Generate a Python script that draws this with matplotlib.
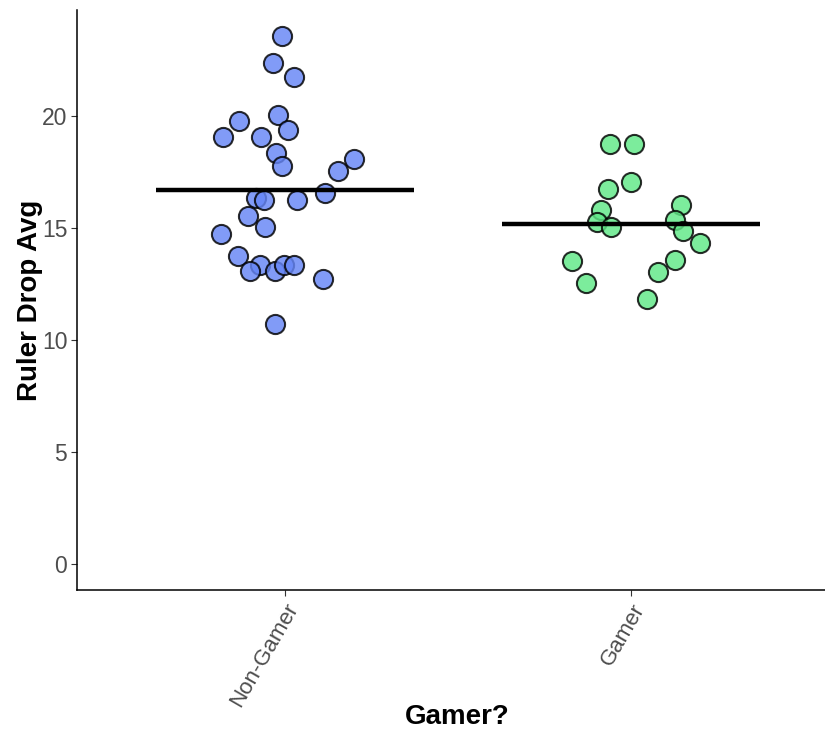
import matplotlib
matplotlib.use("Agg")
import matplotlib.pyplot as plt
import numpy as np

plt.rcParams['font.family'] = ['Liberation Sans', 'DejaVu Sans']

# Groups on the x axis
categories = ["Non-Gamer", "Gamer"]

# Ruler drop averages per participant
non_gamer_values = [23.54, 22.35, 21.73, 20.04, 19.75, 19.03, 19.03, 19.38, 18.33,
                    17.74, 18.07, 17.51, 16.32, 16.22, 16.22, 16.55, 15.54, 15.03,
                    14.73, 13.72, 13.33, 13.05, 13.05, 13.33, 13.33, 12.72, 10.71]
gamer_values = [18.74, 18.74, 17.04, 16.74, 16.03, 15.77, 15.24, 15.03, 15.36,
                14.84, 14.33, 13.53, 13.54, 13.02, 12.53, 11.83]

# Horizontal jitter applied to each point (in category units)
non_gamer_jitter = [-0.007, -0.034, 0.027, -0.020, -0.131, -0.177, -0.070, 0.009,
                    -0.026, -0.008, 0.199, 0.154, -0.083, -0.060, 0.035, 0.115,
                    -0.106, -0.056, -0.183, -0.135, -0.071, -0.101, -0.028,
                    -0.002, 0.027, 0.109, -0.027]
gamer_jitter = [-0.062, 0.008, 0.000, -0.066, 0.143, -0.086, -0.098, -0.058,
                0.126, 0.150, 0.198, -0.170, 0.128, 0.078, -0.129, 0.045]

y_ticks = [0, 5, 10, 15, 20]

fill_colors = ["#6585F6", "#5FE886"]

fig = plt.figure(figsize=(8.25, 7.3), dpi=100)
ax = fig.add_axes([77 / 825, 1 - 590 / 730, 1 - 77 / 825, 580 / 730])

groups = [non_gamer_values, gamer_values]
jitters = [non_gamer_jitter, gamer_jitter]
for i, (vals, jit, col) in enumerate(zip(groups, jitters, fill_colors)):
    xpos = np.full(len(vals), i + 1.0) + np.array(jit)
    ax.scatter(xpos, vals, s=190, facecolor=col, edgecolor="black",
               linewidths=1.5, alpha=0.82, zorder=3)
    m = np.mean(vals)
    ax.hlines(m, i + 1 - 0.373, i + 1 + 0.373, color="black", linewidth=3.2,
              zorder=4)

ax.set_xlim(0.4, 2.56)
ax.set_ylim(-1.18, 24.72)
ax.set_xticks([1, 2])
ax.set_xticklabels(categories, rotation=60, ha="right", va="top",
                   rotation_mode="anchor", fontsize=16, color="#4D4D4D")
ax.set_yticks(y_ticks)
ax.set_yticklabels([str(t) for t in y_ticks], fontsize=16.5, color="#4D4D4D")
ax.tick_params(axis="both", length=4, width=0.8, color="#333333", pad=3)

for side in ["top", "right"]:
    ax.spines[side].set_visible(False)
for side in ["left", "bottom"]:
    ax.spines[side].set_linewidth(1.1)
    ax.spines[side].set_color("black")

fig.text(457 / 825, 1 - 717 / 730, "Gamer?", ha="center", va="center",
         fontsize=20, fontweight="bold")
fig.text(30 / 825, 1 - 300 / 730, "Ruler Drop Avg", ha="center", va="center",
         rotation=90, fontsize=20, fontweight="bold")

fig.savefig("out.png", dpi=100)
